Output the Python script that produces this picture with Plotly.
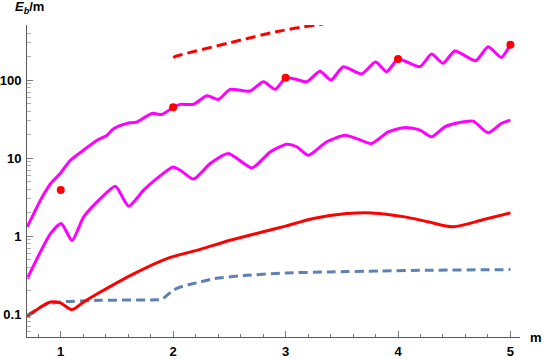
import plotly.graph_objects as go

# upper magenta curve
m_up = [0.702, 0.760, 0.820, 0.909, 0.997, 1.086, 1.204, 1.323, 1.412, 1.473, 1.59, 1.68,
        1.81, 1.90, 2.0, 2.063, 2.181, 2.30, 2.403, 2.507, 2.684, 2.803, 2.907, 3.002,
        3.084, 3.188, 3.306, 3.404, 3.513, 3.677, 3.80, 3.899, 4.002, 4.194, 4.298,
        4.401, 4.505, 4.692, 4.801, 4.919, 5.0]
e_up = [1.32, 1.95, 2.9, 4.7, 6.4, 9.4, 12.7, 17, 19.7, 24, 27.9, 29.2,
        37.4, 36.3, 44.7, 48.8, 49, 63, 56.5, 76, 72.3, 95, 76, 107,
        103, 95, 130, 100, 148, 120, 170, 128, 186, 148, 215,
        164, 235, 177, 267, 195, 287]

# lower magenta curve
m_low = [0.702, 0.909, 1.004, 1.101, 1.204, 1.353, 1.486, 1.604, 1.737, 1.856, 1.998,
         2.063, 2.181, 2.329, 2.492, 2.700, 2.862, 3.011, 3.099, 3.202, 3.366, 3.528,
         3.647, 3.766, 3.913, 4.061, 4.195, 4.298, 4.416, 4.535, 4.668, 4.801, 4.920, 5.0]
e_low = [0.286, 1.08, 1.46, 0.88, 1.77, 3.04, 4.38, 2.43, 3.89, 5.5, 7.7,
         7.0, 5.4, 8.55, 11.5, 7.5, 12, 15.1, 14, 10.9, 16.2, 19.7,
         17.5, 15.4, 21.7, 24.7, 22.9, 18.8, 25.2, 28.4, 29.8, 21.1, 27.9, 30.7]

# red solid curve
m_red = [0.702, 0.909, 0.997, 1.101, 1.204, 1.353, 1.648, 1.945, 2.241, 2.507, 2.862,
         3.0, 3.247, 3.543, 3.766, 4.061, 4.268, 4.49, 4.772, 5.0]
e_red = [0.094, 0.144, 0.14, 0.115, 0.144, 0.193, 0.33, 0.518, 0.68, 0.89, 1.2,
         1.35, 1.69, 1.95, 1.99, 1.77, 1.53, 1.32, 1.65, 1.99]

# blue dashed curve
m_blue = [0.702, 0.849, 0.997, 1.353, 1.886, 1.90, 2.0, 2.063, 2.241, 2.359, 2.655,
          3.0, 3.395, 3.84, 4.268, 5.0]
e_blue = [0.097, 0.13, 0.144, 0.151, 0.154, 0.155, 0.203, 0.224, 0.26, 0.286, 0.316,
          0.339, 0.349, 0.359, 0.367, 0.374]

# red dashed curve
m_rdash = [2.0, 2.063, 2.507, 2.951, 3.335]
e_rdash = [195, 209, 301, 425, 522]

# red points
m_pts = [1, 2, 3, 4, 5]
e_pts = [3.9, 45, 107, 186, 283]

magenta = "#FF00FF"
red = "#FF0000"
blue = "#5E81B5"
linecol = "#5a5a5a"
majcol = "#7a7a7a"
mincol = "#b0b0b0"

fig = go.Figure()
fig.add_trace(go.Scatter(x=m_blue, y=e_blue, mode="lines",
                         line=dict(color=blue, width=3, dash="9px,5px", shape="spline", smoothing=0.6)))
fig.add_trace(go.Scatter(x=m_red, y=e_red, mode="lines",
                         line=dict(color=red, width=3, shape="spline", smoothing=0.8)))
fig.add_trace(go.Scatter(x=m_low, y=e_low, mode="lines",
                         line=dict(color=magenta, width=3, shape="spline", smoothing=0.6)))
fig.add_trace(go.Scatter(x=m_up, y=e_up, mode="lines",
                         line=dict(color=magenta, width=3, shape="spline", smoothing=0.6)))
fig.add_trace(go.Scatter(x=m_rdash, y=e_rdash, mode="lines",
                         line=dict(color=red, width=3, dash="10px,5px", shape="spline")))
fig.add_trace(go.Scatter(x=m_pts, y=e_pts, mode="markers",
                         marker=dict(color=red, size=8)))

axis_font = dict(family="Liberation Sans, Arial, sans-serif", size=13, color="black")

ymajor = [0.1, 1, 10, 100]
yminor = [k * 10 ** p for p in range(-2, 3) for k in range(2, 10)]

fig.update_layout(
    width=545, height=359,
    margin=dict(l=27, r=25, t=25, b=22),
    paper_bgcolor="white", plot_bgcolor="white",
    showlegend=False,
    font=axis_font,
    xaxis=dict(range=[0.70, 5.085], showgrid=False, zeroline=False, automargin=False,
               showline=True, linecolor=linecol, linewidth=1,
               ticks="inside", ticklen=6, tickcolor=majcol, ticklabelstandoff=2,
               tickvals=[1, 2, 3, 4, 5], ticktext=["<b>1</b>", "<b>2</b>", "<b>3</b>", "<b>4</b>", "<b>5</b>"],
               minor=dict(tickvals=[0.8, 1.2, 1.4, 1.6, 1.8, 2.2, 2.4, 2.6, 2.8, 3.2, 3.4, 3.6, 3.8,
                                    4.2, 4.4, 4.6, 4.8, 5.0],
                          ticks="inside", ticklen=3.5, tickcolor=majcol),
               tickfont=axis_font),
    yaxis=dict(type="log", range=[-1.29, 2.705], showgrid=False, zeroline=False, automargin=False,
               showline=True, linecolor=linecol, linewidth=1,
               ticks="inside", ticklen=6, tickcolor=majcol, ticklabelstandoff=2,
               tickvals=ymajor, ticktext=["<b>0.1</b>", "<b>1</b>", "<b>10</b>", "<b>100</b>"],
               minor=dict(tickvals=yminor, ticks="inside", ticklen=3.5, tickcolor=mincol),
               tickfont=axis_font),
)

fig.add_annotation(text="<b><i>E</i></b><sub><b><i>b</i></b></sub><b>/m</b>",
                   xref="paper", yref="paper", x=0, y=1, xshift=-14, yshift=7,
                   xanchor="left", yanchor="bottom", showarrow=False,
                   font=dict(family="Liberation Sans, Arial, sans-serif", size=13, color="black"))
fig.add_annotation(text="<b>m</b>", xref="paper", yref="paper", x=1, y=0,
                   xanchor="left", yanchor="middle", showarrow=False, xshift=8,
                   font=dict(family="Liberation Sans, Arial, sans-serif", size=13, color="black"))

fig.write_html("out.html", config={"displayModeBar": False},
               post_script="document.body.style.margin='0px';")
